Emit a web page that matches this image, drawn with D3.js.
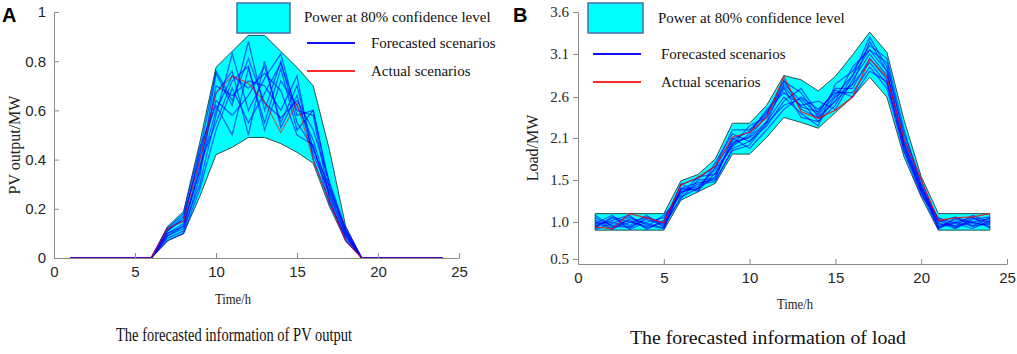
<!DOCTYPE html>
<html lang="en">
<head>
  <meta charset="utf-8">
  <title>PV output and load forecast</title>
  <script src="https://d3js.org/d3.v7.min.js"></script>
  <style>
    body { margin: 0; background: #fff; }
    svg { display: block; }
    .tick text { fill: #262626; }
  </style>
</head>
<body>
  <svg id="chart" width="1017" height="354"></svg>

  <script>
    // hours 1..24
    const hours = d3.range(1, 25);

    // ---- panel A: PV output (MW) ----
    const pvLower = [0,0,0,0,0,0, 0.07,0.10,0.25,0.42,0.45,0.49,0.49,0.465,0.43,0.385,0.21,0.07, 0,0,0,0,0,0];
    const pvUpper = [0,0,0,0,0,0, 0.127,0.19,0.47,0.775,0.84,0.905,0.905,0.84,0.775,0.70,0.44,0.13, 0,0,0,0,0,0];
    const pvActual = [0,0,0,0,0,0, 0.12,0.15,0.40,0.67,0.74,0.71,0.635,0.51,0.63,0.40,0.23,0.07, 0,0,0,0,0,0];
    const z6 = [0,0,0,0,0,0];
    const pvScenarios = [
      [...z6, 0.10,0.14,0.35,0.75,0.62,0.88,0.60,0.80,0.55,0.45,0.25,0.09, ...z6],
      [...z6, 0.11,0.16,0.42,0.67,0.76,0.50,0.80,0.53,0.66,0.42,0.27,0.10, ...z6],
      [...z6, 0.09,0.12,0.30,0.58,0.83,0.60,0.73,0.83,0.58,0.60,0.30,0.11, ...z6],
      [...z6, 0.12,0.18,0.45,0.62,0.50,0.77,0.55,0.77,0.52,0.60,0.28,0.12, ...z6],
      [...z6, 0.08,0.11,0.33,0.70,0.66,0.72,0.70,0.60,0.74,0.40,0.23,0.08, ...z6],
      [...z6, 0.10,0.13,0.38,0.55,0.72,0.78,0.52,0.72,0.62,0.48,0.26,0.10, ...z6],
      [...z6, 0.11,0.17,0.40,0.64,0.58,0.66,0.78,0.55,0.70,0.44,0.29,0.11, ...z6],
      [...z6, 0.07,0.10,0.28,0.52,0.69,0.55,0.67,0.79,0.60,0.58,0.24,0.07, ...z6],
      [...z6, 0.12,0.15,0.43,0.76,0.64,0.81,0.63,0.57,0.64,0.52,0.31,0.12, ...z6],
      [...z6, 0.09,0.13,0.36,0.60,0.74,0.69,0.75,0.68,0.50,0.46,0.22,0.09, ...z6]
    ];
    const pvXTicks = [0, 5, 10, 15, 20, 25];
    const pvYTicks = [0, 0.2, 0.4, 0.6, 0.8, 1];

    // ---- panel B: load (MW) ----
    const loadLower = [0.89,0.89,0.89,0.89,0.89, 1.26,1.36,1.46,1.87,1.87,2.11,2.35,2.29,2.22,2.41,2.60,2.83,2.60,1.83,1.30, 0.89,0.89,0.89,0.89];
    const loadUpper = [1.10,1.10,1.10,1.10,1.10, 1.49,1.58,1.80,2.28,2.28,2.50,2.85,2.80,2.67,2.84,3.09,3.36,3.12,2.32,1.55, 1.10,1.10,1.10,1.10];
    const loadActual = [0.93,0.91,1.10,1.05,0.99, 1.44,1.54,1.70,2.11,2.17,2.35,2.84,2.42,2.34,2.44,2.60,3.04,2.83,2.08,1.50, 1.02,1.05,1.06,1.10];
    const loadScenarios = [
      [0.92,1.05,0.95,1.08,0.93, 1.30,1.40,1.55,2.05,2.10,2.30,2.75,2.55,2.30,2.60,2.75,3.25,2.90,2.00,1.40, 0.93,1.00,0.95,1.05],
      [1.05,0.95,1.02,0.92,1.00, 1.45,1.52,1.70,2.20,2.20,2.40,2.80,2.45,2.35,2.55,2.95,3.15,3.00,2.10,1.45, 1.02,0.92,1.05,0.98],
      [0.98,1.08,0.90,1.00,1.05, 1.35,1.45,1.48,1.95,2.05,2.25,2.55,2.70,2.40,2.70,2.70,3.05,2.80,1.95,1.35, 0.90,1.05,1.00,0.93],
      [0.90,0.98,1.06,0.96,0.91, 1.40,1.38,1.60,2.00,2.25,2.35,2.70,2.35,2.30,2.50,2.85,3.30,2.95,2.15,1.50, 0.97,0.95,1.08,1.00],
      [1.02,0.92,0.99,1.06,0.97, 1.28,1.50,1.52,2.10,1.95,2.20,2.45,2.60,2.45,2.65,2.65,2.95,2.70,1.90,1.32, 1.05,0.98,0.91,1.02],
      [0.95,1.02,1.08,0.90,1.02, 1.38,1.42,1.65,1.98,2.15,2.45,2.65,2.50,2.55,2.45,2.80,3.10,2.85,2.05,1.38, 0.94,1.03,0.98,0.96],
      [1.08,0.94,0.93,1.03,0.95, 1.45,1.36,1.75,2.15,2.05,2.30,2.60,2.40,2.25,2.75,2.90,3.20,3.05,2.20,1.42, 0.99,0.91,1.03,1.06],
      [0.93,1.06,1.00,0.94,1.08, 1.32,1.55,1.58,2.02,2.12,2.38,2.78,2.65,2.35,2.55,2.75,3.00,2.75,1.98,1.36, 1.00,1.06,0.94,0.99],
      [1.00,0.90,1.04,0.98,0.92, 1.40,1.47,1.50,1.92,2.00,2.28,2.50,2.58,2.38,2.62,2.85,3.15,2.90,2.02,1.44, 0.92,0.99,1.06,0.92],
      [0.97,1.00,0.92,1.05,0.99, 1.36,1.40,1.68,2.08,2.18,2.42,2.72,2.48,2.42,2.68,2.60,2.90,2.78,1.92,1.40, 1.04,0.94,1.00,1.04]
    ];
    const loadXTicks = [0, 5, 10, 15, 20, 25];
    const loadYTicks = [0.5, 1.0, 1.5, 2.1, 2.6, 3.1, 3.6];

    const legendItems = ["Power at 80% confidence level", "Forecasted scenarios", "Actual scenarios"];

    const svg = d3.select("#chart");
    svg.append("rect").attr("width", 1017).attr("height", 354).attr("fill", "#fff");

    const serif = "'Liberation Serif', 'Times New Roman', serif";
    const sans = "'Liberation Sans', Arial, sans-serif";

    function drawPanel(o) {
      const g = svg.append("g");
      const x = o.x, y = o.y;

      // confidence band
      const area = d3.area()
          .x((d, i) => x(hours[i]))
          .y0(d => y(d[0]))
          .y1(d => y(d[1]));
      g.append("path")
          .datum(o.lower.map((v, i) => [v, o.upper[i]]))
          .attr("d", area)
          .attr("fill", "#00ffff")
          .attr("stroke", "#2f4f4f")
          .attr("stroke-width", 1);

      const line = d3.line().x((d, i) => x(hours[i])).y(d => y(d));

      g.append("g").selectAll("path")
        .data(o.scenarios)
        .join("path")
          .attr("d", line)
          .attr("fill", "none")
          .attr("stroke", "#0000ff")
          .attr("stroke-opacity", 0.6)
          .attr("stroke-width", 1.3);

      g.append("path")
          .datum(o.actual)
          .attr("d", line)
          .attr("fill", "none")
          .attr("stroke", "#ff0000")
          .attr("stroke-opacity", o.redOpacity)
          .attr("stroke-width", 1.2);

      // axes
      const xAxis = g.append("g")
          .attr("transform", `translate(0,${o.bottom})`)
          .call(d3.axisBottom(x).tickValues(o.xTicks).tickSizeInner(-5).tickSizeOuter(0).tickPadding(8));
      xAxis.selectAll("text").style("font", `15px ${sans}`);

      const yAxis = g.append("g")
          .attr("transform", `translate(${x(0)},0)`)
          .call(d3.axisLeft(y).tickValues(o.yTicks).tickFormat(o.yFormat)
            .tickSizeInner(o.yTickIn ? -5 : 5).tickSizeOuter(0).tickPadding(o.yTickIn ? 8 : 4));
      yAxis.selectAll("text").style("font", o.yFont);

      g.selectAll(".domain, .tick line").attr("stroke", "#8a8a8a");

      // panel letter
      g.append("text")
          .attr("x", o.letterX).attr("y", 22)
          .style("font", `bold 20px ${sans}`)
          .text(o.letter);

      // y title
      g.append("text")
          .attr("transform", `translate(${o.yTitleX},${o.yTitleY}) rotate(-90)`)
          .attr("text-anchor", "middle")
          .style("font", `16px ${serif}`)
          .attr("fill", "#222")
          .text(o.yTitle);

      // x title
      g.append("text")
          .attr("x", o.xTitleX).attr("y", o.xTitleY)
          .attr("text-anchor", "middle")
          .attr("textLength", 36)
          .attr("lengthAdjust", "spacingAndGlyphs")
          .style("font", `15px ${serif}`)
          .attr("fill", "#222")
          .text("Time/h");

      // caption
      g.append("text")
          .attr("x", o.capX).attr("y", o.capY)
          .attr("text-anchor", "middle")
          .attr("textLength", o.capLen)
          .attr("lengthAdjust", "spacingAndGlyphs")
          .style("font", `19px ${serif}`)
          .attr("fill", "#111")
          .text(o.caption);

      // legend
      const L = o.legend;
      g.append("rect")
          .attr("x", L.x).attr("y", 3).attr("width", L.w).attr("height", 30)
          .attr("fill", "#00ffff")
          .attr("stroke", "#4a6fa5").attr("stroke-width", 1.5);
      g.append("line")
          .attr("x1", L.lx).attr("x2", L.lx + 48).attr("y1", L.y2).attr("y2", L.y2)
          .attr("stroke", "#1010ff").attr("stroke-width", 2);
      g.append("line")
          .attr("x1", L.lx).attr("x2", L.lx + 48).attr("y1", L.y3).attr("y2", L.y3)
          .attr("stroke", "#ff2a2a").attr("stroke-width", 2);
      g.selectAll("text.leg")
        .data(legendItems)
        .join("text")
          .attr("class", "leg")
          .attr("x", (d, i) => i === 0 ? L.tx1 : L.tx)
          .attr("y", (d, i) => [L.y1, L.y2, L.y3][i] + 5)
          .style("font", `15px ${serif}`)
          .attr("fill", "#111")
          .text(d => d);
    }

    drawPanel({
      x: d3.scaleLinear().domain([0, 25]).range([54, 459]),
      y: d3.scaleLinear().domain([0, 1]).range([258, 12]),
      bottom: 258,
      lower: pvLower, upper: pvUpper, actual: pvActual, scenarios: pvScenarios,
      redOpacity: 0.6,
      xTicks: pvXTicks, yTicks: pvYTicks, yFormat: d3.format("~g"),
      yTickIn: true, yFont: `15px ${sans}`,
      letter: "A", letterX: 2,
      yTitle: "PV output/MW", yTitleX: 20, yTitleY: 145,
      xTitleX: 233, xTitleY: 304,
      caption: "The forecasted information of PV output", capX: 234, capY: 341, capLen: 236,
      legend: { x: 237, w: 53, lx: 307, tx1: 304, tx: 371, y1: 17, y2: 43, y3: 71 }
    });

    drawPanel({
      x: d3.scaleLinear().domain([0, 25]).range([578, 1007]),
      y: d3.scaleLinear()
          .domain([0.432, 0.5, 1.0, 1.5, 2.1, 2.6, 3.1, 3.6])
          .range([264, 259, 222, 180, 138, 97, 54, 12]),
      bottom: 264,
      lower: loadLower, upper: loadUpper, actual: loadActual, scenarios: loadScenarios,
      redOpacity: 0.8,
      xTicks: loadXTicks, yTicks: loadYTicks, yFormat: d3.format(".1f"),
      yTickIn: false, yFont: `15px ${serif}`,
      letter: "B", letterX: 513,
      yTitle: "Load/MW", yTitleX: 538, yTitleY: 148,
      xTitleX: 795, xTitleY: 309,
      caption: "The forecasted information of load", capX: 768, capY: 344, capLen: 276,
      legend: { x: 588, w: 55, lx: 593, tx1: 658, tx: 661, y1: 18, y2: 54, y3: 82 }
    });
  </script>
</body>
</html>
